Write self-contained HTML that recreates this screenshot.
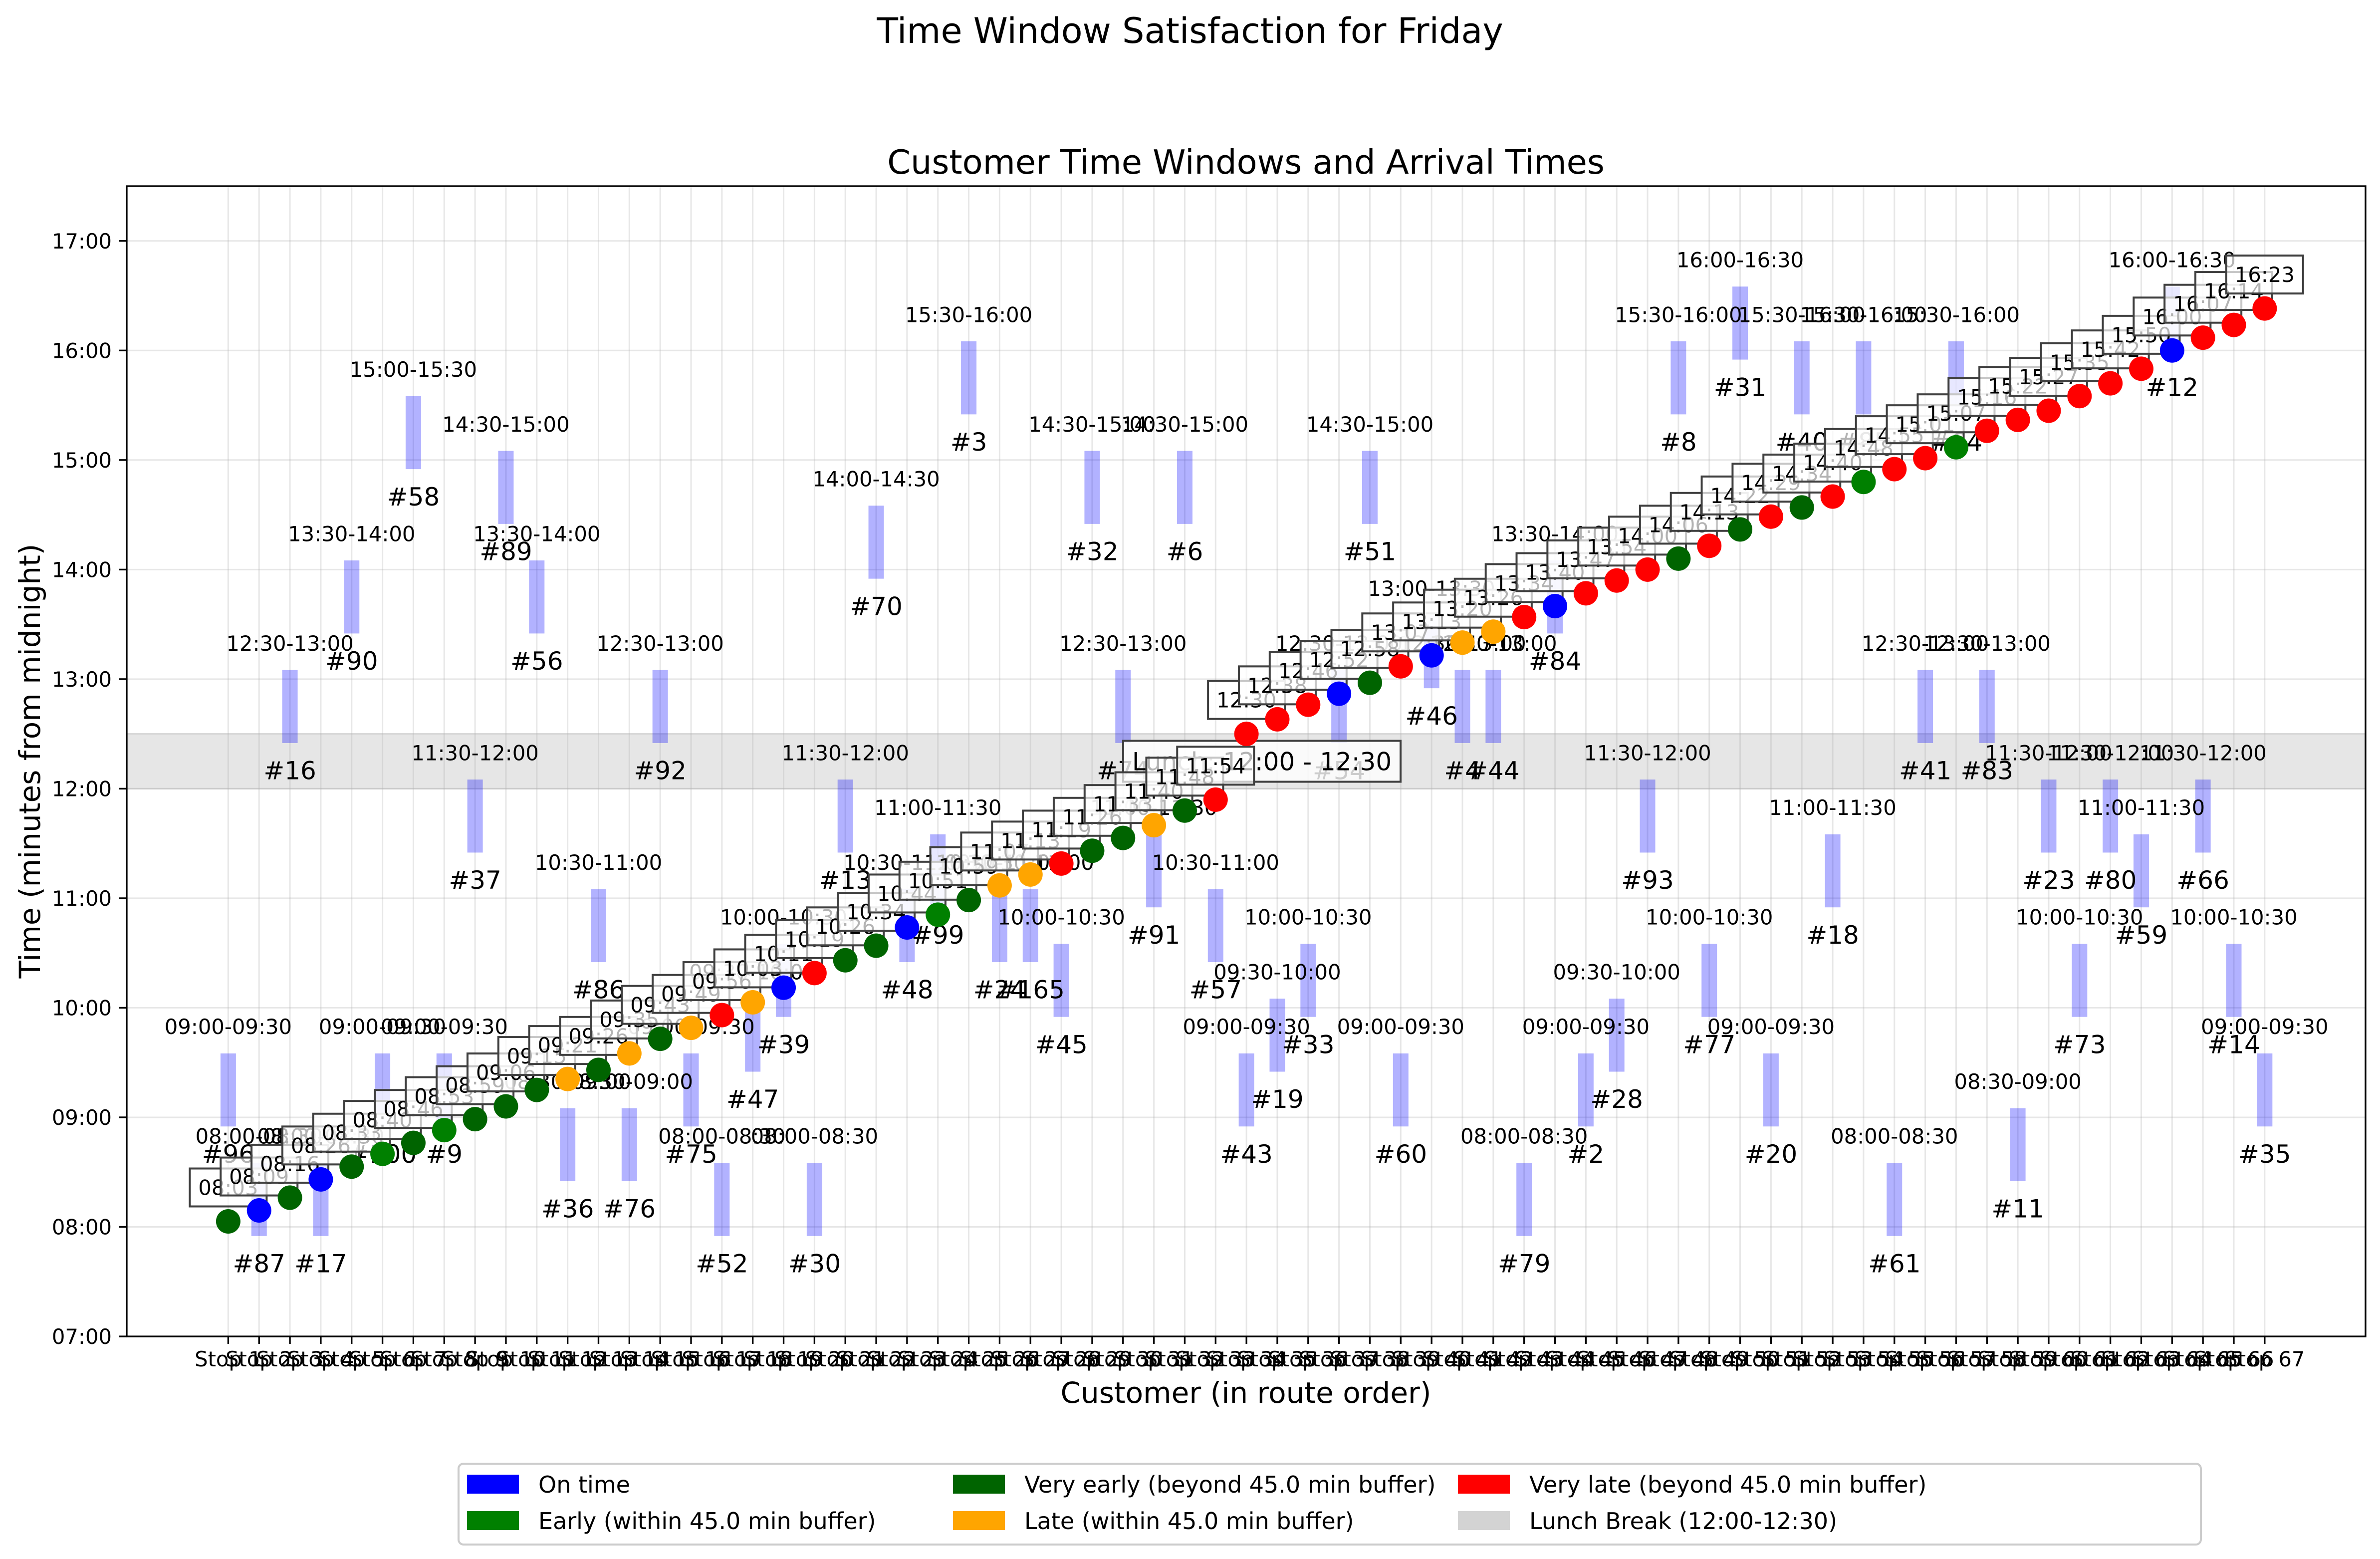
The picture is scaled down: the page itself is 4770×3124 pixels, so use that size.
<!DOCTYPE html>
<html>
<head>
<meta charset="utf-8">
<style>
  html, body { margin: 0; padding: 0; background: #ffffff; }
  svg { display: block; font-family: "DejaVu Sans", "Liberation Sans", sans-serif; }
</style>
</head>
<body>
<svg id="chart" xmlns="http://www.w3.org/2000/svg" width="4770" height="3124" viewBox="0 0 4770 3124">
  <rect x="0" y="0" width="4770" height="3124" fill="#ffffff"/>
  <text x="2385" y="86" font-size="70" text-anchor="middle">Time Window Satisfaction for Friday</text>
  <text x="2497" y="348" font-size="67" text-anchor="middle">Customer Time Windows and Arrival Times</text>
  <g id="plot"></g>
  <text x="2497" y="2811" font-size="58" text-anchor="middle">Customer (in route order)</text>
  <text x="0" y="0" font-size="58" text-anchor="middle" transform="translate(80,1525) rotate(-90)">Time (minutes from midnight)</text>
  <g id="legend"></g>
</svg>
<script>
// ---- data ----
const customers = ["#96","#87","#16","#17","#90","#100","#58","#9","#37","#89","#56","#36","#86","#76","#92","#75","#52","#47","#39","#30","#13","#70","#48","#99","#3","#24","#165","#45","#32","#74","#91","#6","#57","#43","#19","#33","#54","#51","#60","#46","#4","#44","#79","#84","#2","#28","#93","#8","#77","#31","#20","#40","#18","#85","#61","#41","#64","#83","#11","#23","#73","#80","#59","#12","#66","#14","#35"];
const windowStarts = ["09:00","08:00","12:30","08:00","13:30","09:00","15:00","09:00","11:30","14:30","13:30","08:30","10:30","08:30","12:30","09:00","08:00","09:30","10:00","08:00","11:30","14:00","10:30","11:00","15:30","10:30","10:30","10:00","14:30","12:30","11:00","14:30","10:30","09:00","09:30","10:00","12:30","14:30","09:00","13:00","12:30","12:30","08:00","13:30","09:00","09:30","11:30","15:30","10:00","16:00","09:00","15:30","11:00","15:30","08:00","12:30","15:30","12:30","08:30","11:30","10:00","11:30","11:00","16:00","11:30","10:00","09:00"];
const arrivals = ["08:03","08:09","08:16","08:26","08:33","08:40","08:46","08:53","08:59","09:06","09:15","09:21","09:26","09:35","09:43","09:49","09:56","10:03","10:11","10:19","10:26","10:34","10:44","10:51","10:59","11:07","11:13","11:19","11:26","11:33","11:40","11:48","11:54","12:30","12:38","12:46","12:52","12:58","13:07","13:13","13:20","13:26","13:34","13:40","13:47","13:54","14:00","14:06","14:13","14:22","14:29","14:34","14:40","14:48","14:55","15:01","15:07","15:16","15:22","15:27","15:35","15:42","15:50","16:00","16:07","16:14","16:23"];
const statuses = ["veryearly","ontime","veryearly","ontime","veryearly","early","veryearly","early","veryearly","veryearly","veryearly","late","veryearly","late","veryearly","late","verylate","late","ontime","verylate","veryearly","veryearly","ontime","early","veryearly","late","late","verylate","veryearly","veryearly","late","veryearly","verylate","verylate","verylate","verylate","ontime","veryearly","verylate","ontime","late","late","verylate","ontime","verylate","verylate","verylate","veryearly","verylate","veryearly","verylate","veryearly","verylate","early","verylate","verylate","early","verylate","verylate","verylate","verylate","verylate","verylate","ontime","verylate","verylate","verylate"];
const windowLength = 30;
const yTickLabels = ["07:00","08:00","09:00","10:00","11:00","12:00","13:00","14:00","15:00","16:00","17:00"];
const lunchStart = "12:00";
const lunchEnd = "12:30";
const legendLabels = ["On time","Early (within 45.0 min buffer)","Very early (beyond 45.0 min buffer)","Late (within 45.0 min buffer)","Very late (beyond 45.0 min buffer)","Lunch Break (12:00-12:30)"];
const legendKeys = ["ontime","early","veryearly","late","verylate","lunch"];

// ---- styles / scales ----
const COLORS = {ontime:"#0000ff", early:"#008000", veryearly:"#006400", late:"#ffa500", verylate:"#ff0000", lunch:"#d3d3d3"};
const AX = {left:254, right:4741, top:373, bottom:2678};
const X0 = 457.4, DX = 61.84;
const YMIN = 420, YMAX = 1050;
const NS = "http://www.w3.org/2000/svg";
function toMin(s){ const p = s.split(":"); return (+p[0])*60 + (+p[1]); }
function fmt(m){ const h = Math.floor(m/60), mm = m%60; return String(h).padStart(2,"0")+":"+String(mm).padStart(2,"0"); }
function xOf(i){ return X0 + DX*i; }
function yOf(m){ return AX.bottom - (m - YMIN) * (AX.bottom - AX.top) / (YMAX - YMIN); }
function mk(tag, attrs, parent){ const e = document.createElementNS(NS, tag); for (const k in attrs) e.setAttribute(k, attrs[k]); parent.appendChild(e); return e; }

const plot = document.getElementById("plot");
const n = customers.length;

const bg = mk("rect", {x:AX.left, y:AX.top, width:AX.right-AX.left, height:AX.bottom-AX.top, fill:"#ffffff"}, plot);



const ly1 = yOf(toMin(lunchEnd)), ly2 = yOf(toMin(lunchStart));
const band = mk("rect", {x:AX.left, y:ly1, width:AX.right-AX.left, height:ly2-ly1, fill:"#e6e6e6", stroke:"#d6d6d6", "stroke-width":3}, plot);



for (let i = 0; i < n; i++) {
  const gx = mk("line", {x1:xOf(i), x2:xOf(i), y1:AX.top, y2:AX.bottom, stroke:"#b0b0b0", "stroke-opacity":0.3, "stroke-width":3}, plot);
  
  
}
yTickLabels.forEach(function(t){
  const yy = yOf(toMin(t));
  const gy = mk("line", {x1:AX.left, x2:AX.right, y1:yy, y2:yy, stroke:"#b0b0b0", "stroke-opacity":0.3, "stroke-width":3}, plot);
  
  
});

for (let i = 0; i < n; i++) {
  const s = toMin(windowStarts[i]), e = s + windowLength;
  const top = yOf(e + 5), bot = yOf(s - 5);
  const bar = mk("rect", {x:xOf(i)-15.5, y:top, width:31, height:bot-top, fill:"#0000ff", "fill-opacity":0.3}, plot);
  
  
}

for (let i = 0; i < n; i++) {
  const s = toMin(windowStarts[i]), e = s + windowLength;
  const wl = mk("text", {x:xOf(i), y:yOf(e)-72+15, "font-size":41.7, "text-anchor":"middle", fill:"#000"}, plot);
  wl.textContent = fmt(s) + "-" + fmt(e);
  
  
  const cl = mk("text", {x:xOf(i), y:yOf(s)+73+18, "font-size":50, "text-anchor":"middle", fill:"#000"}, plot);
  cl.textContent = customers[i];
  
  
}

const lunchX = xOf((n-1)/2 + 0.5), lunchY = yOf((toMin(lunchStart)+toMin(lunchEnd))/2);
const lbox = mk("rect", {x:lunchX-278, y:lunchY-41, width:556, height:82, fill:"#ffffff", "fill-opacity":0.8, stroke:"#404040", "stroke-width":4}, plot);


const ltxt = mk("text", {x:lunchX, y:lunchY+18, "font-size":50, "text-anchor":"middle", fill:"#000"}, plot);
ltxt.textContent = "Lunch: " + lunchStart + " - " + lunchEnd;



for (let i = 0; i < n; i++) {
  const px = xOf(i), py = yOf(toMin(arrivals[i]));
  const dot = mk("circle", {cx:px, cy:py, r:24.5, fill:COLORS[statuses[i]]}, plot);
  
  
  const box = mk("rect", {x:px-77, y:py-106, width:154, height:76, fill:"#ffffff", "fill-opacity":0.7, stroke:"#404040", "stroke-width":4}, plot);
  
  
  const at = mk("text", {x:px, y:py-53, "font-size":41.7, "text-anchor":"middle", fill:"#000"}, plot);
  at.textContent = arrivals[i];
  
  
}

const frame = mk("rect", {x:AX.left, y:AX.top, width:AX.right-AX.left, height:AX.bottom-AX.top, fill:"none", stroke:"#000", "stroke-width":3.3}, plot);



yTickLabels.forEach(function(t){
  const yy = yOf(toMin(t));
  const tk = mk("line", {x1:AX.left-15, x2:AX.left, y1:yy, y2:yy, stroke:"#000", "stroke-width":3.3}, plot);
  
  
  const tl = mk("text", {x:AX.left-30, y:yy+15, "font-size":41.7, "text-anchor":"end", fill:"#000"}, plot);
  tl.textContent = t;
  
  
});

for (let i = 0; i < n; i++) {
  const tk = mk("line", {x1:xOf(i), x2:xOf(i), y1:AX.bottom, y2:AX.bottom+15, stroke:"#000", "stroke-width":3.3}, plot);
  
  
  const tl = mk("text", {x:xOf(i), y:AX.bottom+60, "font-size":41.7, "text-anchor":"middle", fill:"#000"}, plot);
  tl.textContent = "Stop " + (i+1);
  
  
}

const legend = document.getElementById("legend");
const lframe = mk("rect", {x:919, y:2933, width:3492, height:162, rx:10, fill:"#ffffff", "fill-opacity":0.8, stroke:"#cccccc", "stroke-width":4}, legend);


const colX = [936, 1910, 2922];
const rowY = [2974, 3047];
for (let k = 0; k < legendLabels.length; k++) {
  const c = Math.floor(k/2), r = k%2;
  const g = mk("g", {}, legend);
  
  
  const sw = mk("rect", {x:colX[c], y:rowY[r]-19, width:104, height:38, fill:COLORS[legendKeys[k]]}, g);
  
  
  const tx = mk("text", {x:colX[c]+143, y:rowY[r]+17, "font-size":46, fill:"#000"}, g);
  tx.textContent = legendLabels[k];
  
  
}
</script>
</body>
</html>
